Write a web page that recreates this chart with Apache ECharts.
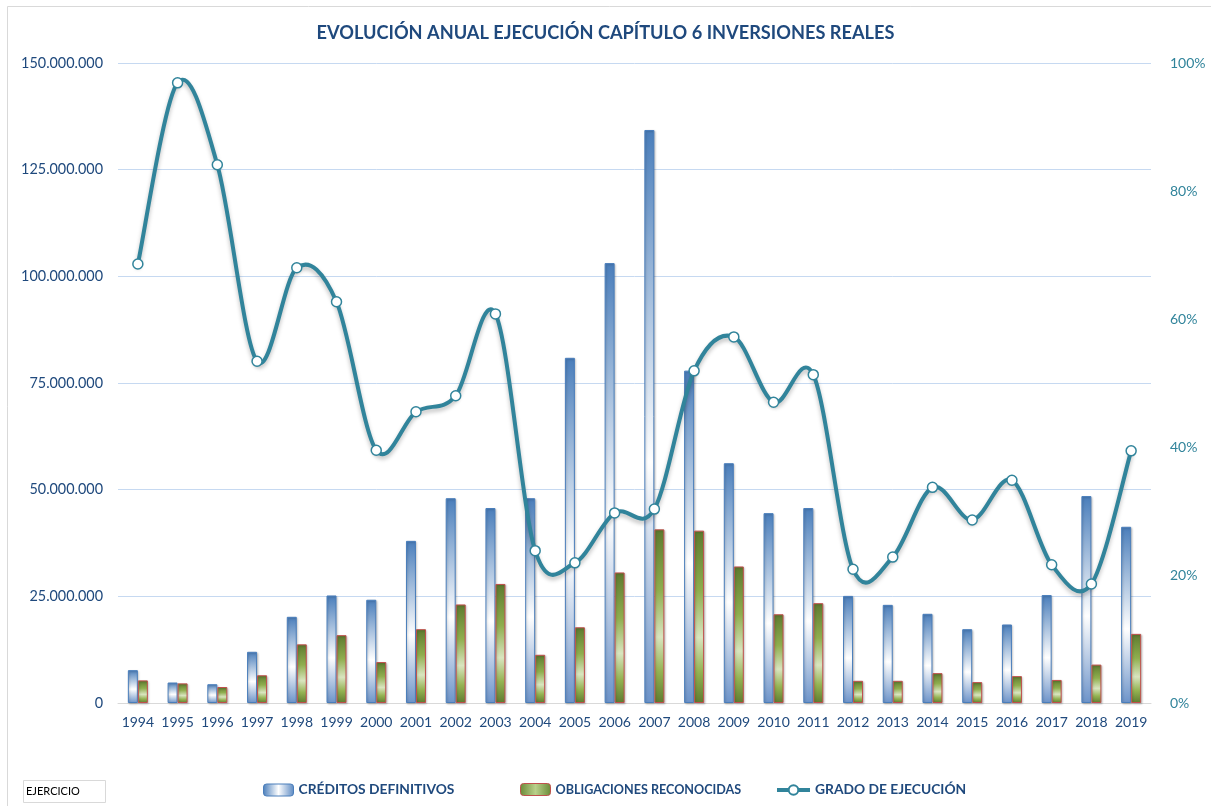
<!DOCTYPE html>
<html>
<head>
<meta charset="utf-8">
<script src="https://cdn.jsdelivr.net/npm/echarts@6/dist/echarts.min.js"></script>
<style>
html,body{margin:0;padding:0;background:#fff;}
#chart{width:1211px;height:806px;}
</style>
</head>
<body>
<div id="chart"></div>
<script>
var years = ['1994','1995','1996','1997','1998','1999','2000','2001','2002','2003','2004','2005','2006','2007','2008','2009','2010','2011','2012','2013','2014','2015','2016','2017','2018','2019'];
var creditos = [7700000,4800000,4400000,12000000,20200000,25200000,24200000,38000000,48000000,45700000,48000000,80900000,103100000,134300000,77900000,56200000,44500000,45700000,25100000,23000000,20900000,17300000,18400000,25300000,48500000,41300000];
var obligaciones = [5300000,4600000,3750000,6500000,13750000,15900000,9600000,17300000,23100000,27900000,11300000,17750000,30600000,40700000,40400000,32000000,20800000,23400000,5200000,5200000,7000000,4900000,6300000,5400000,9000000,16200000];
var grado = [68.6,96.9,84.1,53.4,68.0,62.7,39.5,45.5,48.0,60.8,23.8,21.9,29.7,30.3,51.9,57.2,47.0,51.3,20.9,22.8,33.7,28.6,34.8,21.6,18.6,39.4];
var leftTicks = {min:0, max:150000000, interval:25000000};
var rightTicks = {min:0, max:100, interval:20};

var FONT = 'Lato';
var NAVY = '#1f497d';
var TEAL = '#31849b';

function dots(v){ return String(v).replace(/\B(?=(\d{3})+(?!\d))/g,'.'); }

var blueGrad = new echarts.graphic.LinearGradient(0,0,0,1,[
  {offset:0,color:'#4a7ebb'},{offset:0.58,color:'#ffffff'},{offset:1,color:'#6c93c9'}]);
var greenGrad = new echarts.graphic.LinearGradient(0,0,0,1,[
  {offset:0,color:'#5d7a2f'},{offset:0.35,color:'#8fae4e'},{offset:0.62,color:'#d9e5bf'},{offset:0.82,color:'#94b352'},{offset:1,color:'#5f7c30'}]);
var blueGradH = new echarts.graphic.LinearGradient(0,0,1,0,[
  {offset:0,color:'#4a7ebb'},{offset:0.5,color:'#ffffff'},{offset:1,color:'#5b89c3'}]);
var greenGradH = new echarts.graphic.LinearGradient(0,0,1,0,[
  {offset:0,color:'#6a8a37'},{offset:0.5,color:'#b9d08a'},{offset:1,color:'#6a8a37'}]);

var n = grado.length;
var curveData = grado.map(function(v,i){ return [i, v]; });

function renderSegment(params, api){
  var i = params.dataIndex;
  if (i >= n - 1) return null;
  function P(k){ k = Math.max(0, Math.min(n-1, k)); return api.coord([k, grado[k]]); }
  var p0 = P(i-1), p1 = P(i), p2 = P(i+1), p3 = P(i+2);
  var t = 1/6;
  return {
    type:'bezierCurve',
    shape:{
      x1:p1[0], y1:p1[1], x2:p2[0], y2:p2[1],
      cpx1:p1[0] + (p2[0]-p0[0])*t, cpy1:p1[1] + (p2[1]-p0[1])*t,
      cpx2:p2[0] - (p3[0]-p1[0])*t, cpy2:p2[1] - (p3[1]-p1[1])*t
    },
    style:{fill:null, stroke:TEAL, lineWidth:4, lineCap:'round',
      shadowColor:'rgba(0,0,0,0.25)', shadowBlur:4, shadowOffsetY:3}
  };
}

var chart = echarts.init(document.getElementById('chart'), null, {renderer:'canvas'});
var legendText = {fontFamily:FONT, fontSize:13.8, fontWeight:'bold', color:NAVY};
var legendTextNarrow = {fontFamily:FONT, fontSize:12.6, fontWeight:'bold', color:NAVY};
chart.setOption({
  animation:false,
  backgroundColor:'#ffffff',
  title:{
    text:'EVOLUCIÓN ANUAL EJECUCIÓN CAPÍTULO 6 INVERSIONES REALES',
    left:'center', top:19,
    textStyle:{fontFamily:FONT, fontSize:18.2, fontWeight:'bold', color:NAVY}
  },
  legend:[
    {data:[{name:'CRÉDITOS DEFINITIVOS', itemStyle:{color:blueGradH, borderColor:'#4a7ebb', borderWidth:1}}],
     left:263, top:783, padding:0, itemWidth:30, itemHeight:12, itemGap:4, textStyle:legendText, selectedMode:false},
    {data:[{name:'OBLIGACIONES RECONOCIDAS', itemStyle:{color:greenGradH, borderColor:'#c0504d', borderWidth:1}}],
     left:520, top:783, padding:0, itemWidth:30, itemHeight:12, itemGap:4, textStyle:legendTextNarrow, selectedMode:false},
    {data:[{name:'GRADO DE EJECUCIÓN', lineStyle:{color:TEAL, width:4, opacity:1}}],
     left:775, top:783, padding:0, itemWidth:33, itemHeight:12, itemGap:4, textStyle:legendText, selectedMode:false}
  ],
  grid:{left:118, right:60, top:63, bottom:103, containLabel:false, outerBoundsMode:'none'},
  xAxis:{
    type:'category', data:years,
    axisLine:{show:true, lineStyle:{color:'#d9d9d9', width:1}},
    axisTick:{show:false},
    axisLabel:{fontFamily:FONT, fontSize:14, color:NAVY, margin:12, interval:0}
  },
  yAxis:[
    {type:'value', min:leftTicks.min, max:leftTicks.max, interval:leftTicks.interval,
     axisLine:{show:false}, axisTick:{show:false},
     splitLine:{lineStyle:{color:'#c6d9f1', width:1}},
     axisLabel:{fontFamily:FONT, fontSize:14.4, color:NAVY, margin:15, formatter:function(v){return dots(v);}}},
    {type:'value', min:rightTicks.min, max:rightTicks.max, interval:rightTicks.interval,
     axisLine:{show:false}, axisTick:{show:false}, splitLine:{show:false},
     axisLabel:{fontFamily:FONT, fontSize:14, color:TEAL, margin:19, formatter:'{value}%'}}
  ],
  series:[
    {name:'CRÉDITOS DEFINITIVOS', type:'bar', data:creditos, barWidth:10, barGap:'0%',
     itemStyle:{color:blueGrad, borderColor:'#4a7ebb', borderWidth:1, shadowColor:'rgba(0,0,0,0.2)', shadowBlur:2, shadowOffsetX:1, shadowOffsetY:1}},
    {name:'OBLIGACIONES RECONOCIDAS', type:'bar', data:obligaciones, barWidth:10, barGap:'0%',
     itemStyle:{color:greenGrad, borderColor:'#c0504d', borderWidth:1, shadowColor:'rgba(0,0,0,0.2)', shadowBlur:2, shadowOffsetX:1, shadowOffsetY:1}},
    {name:'curve', type:'custom', yAxisIndex:1, data:curveData, renderItem:renderSegment,
     encode:{x:0, y:1}, clip:false, z:5, silent:true},
    {name:'GRADO DE EJECUCIÓN', type:'line', yAxisIndex:1, data:grado,
     symbol:'circle', symbolSize:10, showSymbol:true,
     lineStyle:{color:TEAL, width:4, opacity:0},
     itemStyle:{color:'#ffffff', borderColor:TEAL, borderWidth:1.5}, z:6}
  ],
  graphic:[
    {type:'rect', shape:{x:7.5, y:6.5, width:1300, height:900}, style:{fill:'none', stroke:'#d9d9d9', lineWidth:1}, silent:true, z:-10},
    {type:'rect', shape:{x:23.5, y:780.5, width:82, height:22}, style:{fill:'#ffffff', stroke:'#d9d9d9', lineWidth:1}, silent:true},
    {type:'text', left:26, top:786, style:{text:'EJERCICIO', fontFamily:FONT, fontSize:11, fill:'#000000'}, silent:true}
  ]
});
</script>
</body>
</html>
